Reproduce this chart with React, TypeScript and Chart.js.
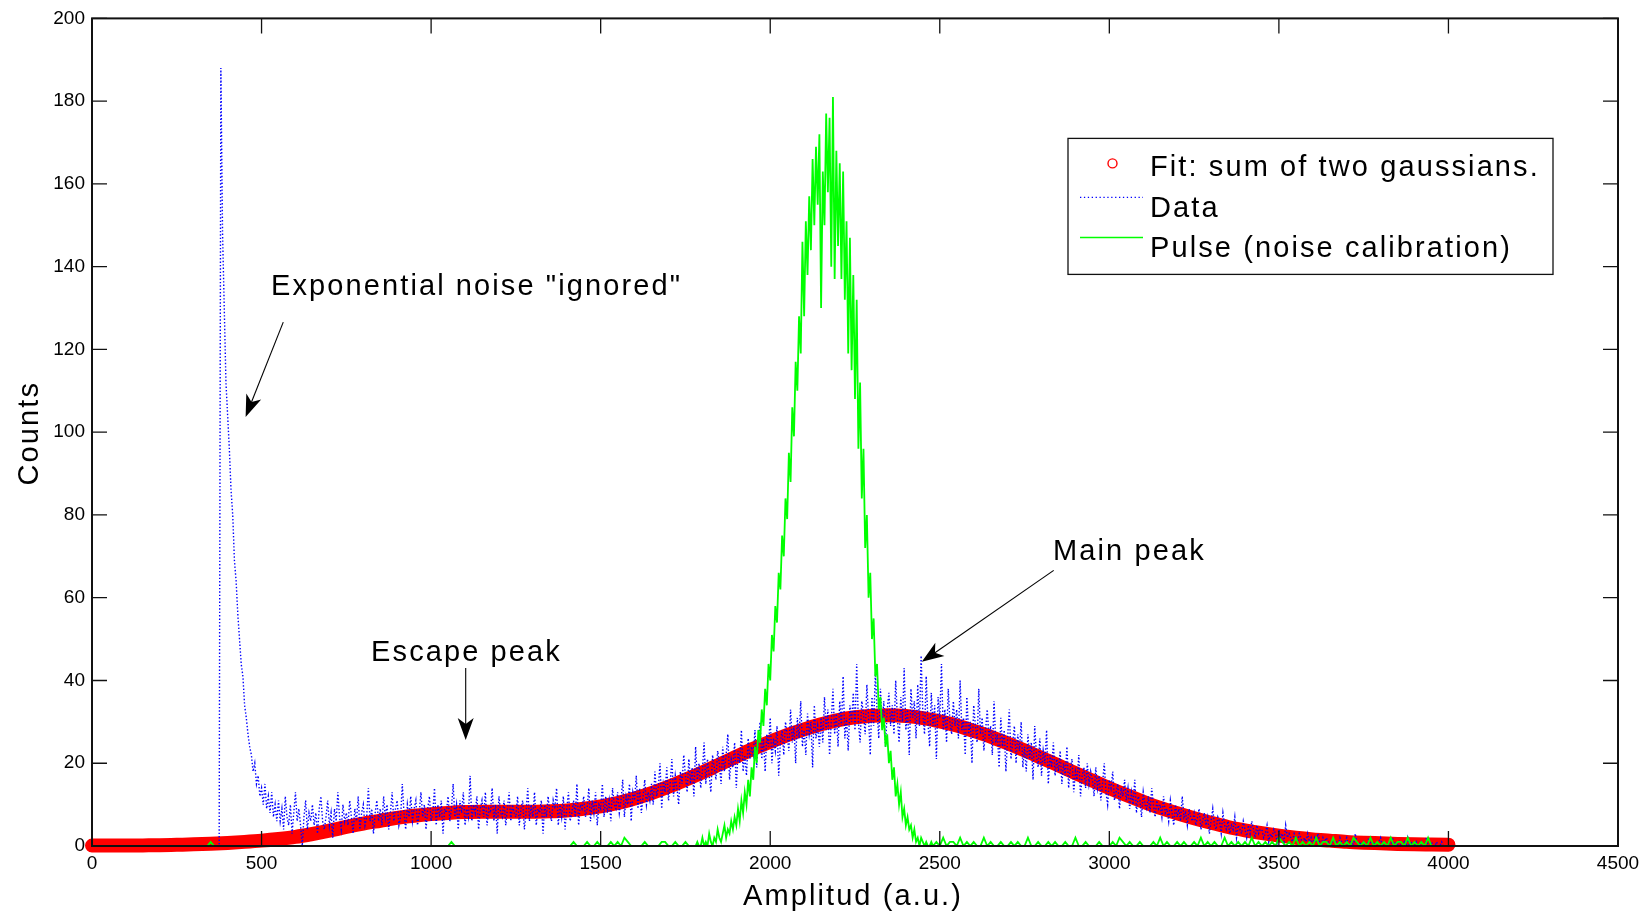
import React, { useEffect, useRef } from 'react';
import { Chart, registerables } from 'chart.js';

Chart.register(...registerables);

const W = 1647;
const H = 915;
const FONT = '"Liberation Sans", Arial, Helvetica, sans-serif';

// ---------- axes ----------
const xTickValues = [0, 500, 1000, 1500, 2000, 2500, 3000, 3500, 4000, 4500];
const yTickValues = [0, 20, 40, 60, 80, 100, 120, 140, 160, 180, 200];
const xTitle = 'Amplitud (a.u.)';
const yTitle = 'Counts';

// ---------- series labels ----------
const fitLabel = 'Fit: sum of two gaussians.';
const dataLabel = 'Data';
const pulseLabel = 'Pulse (noise calibration)';

// ---------- fit (sum of two gaussians), sampled every 50 a.u. ----------
const fitStart = 0;
const fitStep = 50;
const fitCounts = [
  0.1, 0.1, 0.1, 0.15, 0.2, 0.3, 0.4, 0.55, 0.75, 1.0,
  1.3, 1.7, 2.2, 2.9, 3.7, 4.6, 5.4, 6.1, 6.8, 7.3,
  7.7, 8.0, 8.2, 8.3, 8.3, 8.3, 8.3, 8.4, 8.6, 9.0,
  9.6, 10.4, 11.5, 12.8, 14.3, 16.0, 17.8, 19.7, 21.6, 23.5,
  25.2, 26.8, 28.2, 29.4, 30.4, 31.1, 31.5, 31.6, 31.4, 30.9,
  30.1, 29.1, 27.8, 26.4, 24.8, 23.1, 21.3, 19.5, 17.6, 15.8,
  14.0, 12.3, 10.7, 9.2, 7.9, 6.7, 5.6, 4.6, 3.8, 3.1,
  2.5, 2.0, 1.6, 1.3, 1.0, 0.8, 0.65, 0.5, 0.4, 0.35,
  0.3,
];

// ---------- measured data, every 5 a.u. from 370 ----------
const dataStart = 370;
const dataStep = 5;
const dataCounts = [
  0, 0, 188, 148, 130, 112, 104, 96, 86, 80, 69, 64, 56, 50, 44, 41, 34, 31, 27, 24,
  22, 18, 20, 15, 17, 12, 14, 10, 15, 9, 12, 8, 13, 7, 10, 6,
  11, 6, 9, 4, 12, 7, 5, 10, 3, 8, 13, 6, 9, 5, 0, 7, 11, 4, 8, 6,
  10, 5, 8, 3, 9, 12, 6, 4, 7, 11, 5, 8, 2, 9, 6, 13, 7, 4, 10, 6,
  8, 5, 11, 7, 3, 9, 6, 12, 4, 8, 10, 5, 7, 14, 6, 9, 3, 8, 11, 6,
  9, 5, 12, 7, 10, 4, 8, 13, 6, 9, 11, 5, 7, 15, 8, 4, 10, 7, 12, 6,
  9, 11, 5, 8, 13, 7, 10, 4, 9, 12, 6, 8, 14, 5, 10, 7, 11, 3, 9, 8,
  12, 6, 9, 15, 7, 10, 4, 11, 8, 13, 5, 9, 7, 17, 6, 10, 8, 12, 4, 9,
  11, 7, 13, 5, 9, 8, 14, 6, 10, 3, 12, 8, 7, 11, 5, 9, 13, 6, 10, 8,
  7, 12, 5, 9, 11, 4, 8, 14, 6, 10, 7, 13, 5, 9, 8, 11, 3, 10, 7, 12,
  8, 6, 11, 9, 14, 5, 10, 7, 12, 4, 9, 13, 6, 8, 11, 7, 15, 5, 10, 9,
  12, 7, 9, 14, 6, 11, 8, 13, 5, 10, 9, 15, 7, 12, 8, 11, 6, 14, 10, 9,
  13, 8, 11, 16, 7, 12, 10, 15, 6, 13, 11, 17, 9, 14, 8, 12, 16, 10, 13, 11,
  15, 10, 18, 12, 14, 20, 9, 16, 13, 19, 11, 15, 21, 12, 17, 14, 10, 18, 15, 22,
  17, 13, 21, 15, 19, 12, 24, 16, 20, 14, 18, 25, 15, 21, 17, 13, 22, 19, 16, 23,
  20, 15, 24, 18, 22, 27, 16, 21, 19, 25, 14, 23, 20, 28, 18, 22, 17, 26, 21, 24,
  22, 28, 19, 25, 30, 21, 26, 18, 27, 24, 31, 20, 26, 23, 29, 17, 25, 28, 22, 30,
  27, 23, 33, 25, 29, 20, 31, 26, 35, 24, 28, 22, 32, 27, 30, 19, 34, 26, 29, 24,
  31, 25, 36, 28, 33, 22, 30, 38, 27, 32, 24, 35, 29, 41, 26, 31, 23, 34, 30, 37,
  28, 44, 30, 25, 35, 32, 27, 39, 31, 22, 36, 29, 42, 33, 26, 38, 30, 35, 24, 33,
  37, 29, 34, 27, 40, 31, 25, 36, 30, 43, 28, 33, 22, 38, 31, 35, 26, 39, 29, 46,
  32, 27, 41, 30, 24, 37, 29, 34, 21, 36, 31, 44, 28, 33, 25, 38, 30, 27, 35, 29,
  33, 26, 40, 28, 31, 22, 36, 27, 30, 20, 34, 29, 25, 38, 27, 31, 23, 28, 33, 26,
  29, 22, 35, 25, 27, 19, 31, 24, 28, 18, 26, 33, 21, 25, 29, 20, 27, 23, 30, 19,
  24, 18, 27, 21, 25, 16, 29, 22, 19, 26, 17, 23, 20, 28, 15, 22, 19, 25, 17, 21,
  18, 23, 15, 20, 17, 24, 14, 19, 21, 13, 18, 16, 22, 12, 17, 19, 14, 20, 15, 18,
  16, 12, 19, 14, 17, 11, 15, 20, 13, 10, 16, 14, 18, 11, 13, 15, 9, 14, 12, 16,
  11, 14, 9, 13, 10, 16, 8, 12, 11, 7, 13, 10, 9, 12, 8, 14, 10, 7, 11, 9,
  10, 7, 12, 8, 9, 6, 11, 8, 5, 10, 7, 9, 6, 12, 7, 8, 5, 9, 7, 6,
  8, 5, 7, 9, 4, 6, 8, 5, 7, 3, 6, 9, 5, 4, 7, 6, 3, 8, 5, 4,
  6, 3, 5, 4, 7, 2, 5, 4, 3, 6, 4, 2, 5, 3, 6, 4, 2, 5, 3, 4,
  4, 2, 3, 5, 1, 3, 2, 4, 3, 1, 4, 2, 3, 1, 5, 2, 3, 2, 1, 3,
  2, 1, 3, 2, 0, 2, 1, 3, 1, 2, 0, 2, 1, 3, 1, 0, 2, 1, 2, 1,
  1, 0, 2, 1, 1, 0, 2, 1, 0, 1, 2, 0, 1, 1, 0, 3, 1, 0, 1, 0,
  1, 0, 0, 2, 1, 0, 1, 0, 0, 1, 2, 0, 1, 0, 0, 1, 0, 2, 0, 1,
  0, 1, 0, 0, 1, 0, 2, 0, 1, 0, 0, 1, 0, 0, 1, 0, 0, 2, 0, 0,
  1, 0, 0, 1, 0, 0, 1, 0, 0, 0, 0,
];

// ---------- pulse (noise calibration) ----------
const pulseLowStart = 340;
const pulseLowStep = 10;
const pulseLow = [
  0, 1, 0, 0, 0, 0, 0, 0, 0, 0,
  0, 0, 0, 0, 0, 0, 0, 0, 0, 0,
  0, 0, 0, 0, 0, 0, 0, 0, 0, 0,
  0, 0, 0, 0, 0, 0, 0, 0, 0, 0,
  0, 0, 0, 0, 0, 0, 0, 0, 0, 0,
  0, 0, 0, 0, 0, 0, 0, 0, 0, 0,
  0, 0, 0, 0, 0, 0, 0, 0, 0, 0,
  0, 0, 1, 0, 0, 0, 0, 0, 0, 0,
  0, 0, 0, 0, 0, 0, 0, 0, 0, 0,
  0, 0, 0, 0, 0, 0, 0, 0, 0, 0,
  0, 0, 0, 0, 0, 0, 0, 0, 1, 0,
  0, 0, 1, 0, 0, 1, 0, 0, 0, 1,
  0, 1, 0, 2, 1, 0, 0, 0, 0, 1,
  0, 0, 0, 0, 1, 1, 0, 0, 1, 0,
  0, 1, 0, 0,
];
const pulseCoreStart = 1780;
const pulseCoreStep = 5;
const pulseCore = [
  0, 1, 0, 0, 2, 0, 1, 0, 3, 1,
  0, 2, 1, 4, 2, 1, 3, 5, 2, 4,
  3, 6, 4, 7, 5, 9, 6, 11, 8, 13,
  10, 16, 12, 19, 16, 24, 20, 28, 25, 33,
  29, 38, 34, 44, 40, 51, 47, 58, 54, 66,
  62, 75, 70, 84, 79, 95, 88, 106, 99, 117,
  110, 128, 119, 146, 128, 151, 138, 157, 144, 166,
  150, 169, 155, 172, 130, 163, 150, 177, 158, 176,
  140, 181, 137, 168, 145, 165, 137, 163, 132, 151,
  119, 147, 115, 138, 108, 132, 96, 112, 84, 96,
  72, 80, 60, 66, 50, 55, 41, 44, 33, 36,
  28, 31, 24, 27, 20, 23, 16, 19, 12, 15,
  10, 13, 7, 9, 5, 7, 4, 5, 2, 4,
  1, 2, 0, 2, 1, 0, 1, 0, 0, 1,
  0,
];
const pulseTailStart = 2490;
const pulseTailStep = 10;
const pulseTail = [
  1, 0, 2, 0, 1, 1, 0, 2, 0, 1,
  0, 1, 0, 0, 2, 0, 1, 0, 0, 1,
  0, 0, 1, 0, 1, 0, 0, 2, 0, 0,
  1, 0, 0, 1, 0, 1, 0, 0, 1, 0,
  0, 2, 0, 0, 1, 0, 0, 0, 1, 0,
  0, 0, 1, 0, 2, 1, 0, 1, 0, 0,
  1, 0, 0, 0, 1, 0, 2, 0, 1, 0,
  0, 1, 0, 1, 0, 0, 1, 0, 2, 0,
  1, 0, 1, 0, 0, 2, 0, 1, 0, 1,
  0, 1, 0, 2, 0, 1, 0, 1, 0, 1,
  0, 2, 1, 0, 1, 0, 2, 0, 1, 0,
  1, 0, 2, 0, 1, 1, 0, 2, 0, 1,
  0, 1, 0, 2, 1, 0, 1, 0, 2, 0,
  1, 0, 1, 0, 2, 0, 1, 1, 0, 2,
  0, 1, 0, 1, 0, 2, 0, 0,
];

// ---------- annotations (data coordinates) ----------
const annotationTexts = ['Exponential noise "ignored"', 'Escape peak', 'Main peak'];
const annotationTextAt = [
  [528, 133.1],
  [823, 44.7],
  [2834, 69.1],
];
const annotationArrowFrom = [
  [564, 126.6],
  [1102, 43.0],
  [2836, 66.6],
];
const annotationArrowTo = [
  [453, 103.7],
  [1102, 25.6],
  [2447, 44.5],
];

function series(start: number, step: number, values: number[]) {
  return values.map((y, i) => ({ x: start + i * step, y }));
}

const pulsePoints = [
  ...series(pulseLowStart, pulseLowStep, pulseLow),
  ...series(pulseCoreStart, pulseCoreStep, pulseCore),
  ...series(pulseTailStart, pulseTailStep, pulseTail),
];

const RED = '#ff0000';
const BLUE = '#0000ff';
const GREEN = '#00ff00';
const INK = '#111111';
const TEXT_FONT = `29px ${FONT}`;
const TEXT_SPACING = '2.1px';

function drawArrow(ctx: CanvasRenderingContext2D, x1: number, y1: number, x2: number, y2: number) {
  const dx = x2 - x1;
  const dy = y2 - y1;
  const len = Math.hypot(dx, dy);
  const ux = dx / len;
  const uy = dy / len;
  const nx = -uy;
  const ny = ux;
  const L = 22;
  const Wd = 8;
  const notch = 6;
  ctx.beginPath();
  ctx.moveTo(x1, y1);
  ctx.lineTo(x2 - ux * (L - notch), y2 - uy * (L - notch));
  ctx.stroke();
  ctx.beginPath();
  ctx.moveTo(x2, y2);
  ctx.lineTo(x2 - ux * L + nx * Wd, y2 - uy * L + ny * Wd);
  ctx.lineTo(x2 - ux * (L - notch), y2 - uy * (L - notch));
  ctx.lineTo(x2 - ux * L - nx * Wd, y2 - uy * L - ny * Wd);
  ctx.closePath();
  ctx.fill();
}

const decorPlugin = {
  id: 'matlabDecor',
  afterDatasetsDraw(chart: any) {
    const { ctx, chartArea: a, scales } = chart;
    const xs = scales.x;
    const ys = scales.y;
    const TL = 15;
    ctx.save();
    ctx.strokeStyle = INK;
    ctx.lineWidth = 1.3;
    ctx.beginPath();
    xTickValues.forEach((v) => {
      const p = xs.getPixelForValue(v);
      ctx.moveTo(p, a.bottom);
      ctx.lineTo(p, a.bottom - TL);
      ctx.moveTo(p, a.top);
      ctx.lineTo(p, a.top + TL);
    });
    yTickValues.forEach((v) => {
      const p = ys.getPixelForValue(v);
      ctx.moveTo(a.left, p);
      ctx.lineTo(a.left + TL, p);
      ctx.moveTo(a.right, p);
      ctx.lineTo(a.right - TL, p);
    });
    ctx.stroke();
    ctx.lineWidth = 2;
    ctx.strokeRect(a.left, a.top, a.right - a.left, a.bottom - a.top);
    ctx.restore();
  },
  afterDraw(chart: any) {
    const { ctx, chartArea: a, scales } = chart;
    const xs = scales.x;
    const ys = scales.y;
    ctx.save();
    ctx.fillStyle = '#000';
    ctx.strokeStyle = '#000';
    ctx.font = TEXT_FONT;
    (ctx as any).letterSpacing = TEXT_SPACING;
    ctx.textBaseline = 'alphabetic';

    // annotations
    annotationTexts.forEach((t, i) => {
      ctx.textAlign = 'left';
      ctx.fillText(t, xs.getPixelForValue(annotationTextAt[i][0]), ys.getPixelForValue(annotationTextAt[i][1]));
      ctx.lineWidth = 1.1;
      drawArrow(
        ctx,
        xs.getPixelForValue(annotationArrowFrom[i][0]),
        ys.getPixelForValue(annotationArrowFrom[i][1]),
        xs.getPixelForValue(annotationArrowTo[i][0]),
        ys.getPixelForValue(annotationArrowTo[i][1])
      );
    });

    // axis titles
    ctx.textAlign = 'center';
    ctx.fillText(xTitle, (a.left + a.right) / 2 - 2, 905);
    ctx.save();
    ctx.translate(38, (a.top + a.bottom) / 2 + 1);
    ctx.rotate(-Math.PI / 2);
    ctx.fillText(yTitle, 0, 0);
    ctx.restore();

    // legend box
    const bx = a.right - 550;
    const by = a.top + 120;
    const bw = 485;
    const bh = 136;
    ctx.fillStyle = '#fff';
    ctx.fillRect(bx, by, bw, bh);
    ctx.lineWidth = 1.3;
    ctx.strokeStyle = INK;
    ctx.strokeRect(bx, by, bw, bh);

    const rows = [by + 29, by + 69.5, by + 110];
    const labels = [fitLabel, dataLabel, pulseLabel];
    const sx1 = bx + 12;
    const sx2 = bx + 75;
    // fit sample: hollow circle
    ctx.strokeStyle = RED;
    ctx.lineWidth = 1.4;
    ctx.beginPath();
    ctx.arc((sx1 + sx2) / 2 + 1, rows[0] - 4, 4.5, 0, Math.PI * 2);
    ctx.stroke();
    // data sample: dotted blue
    ctx.strokeStyle = BLUE;
    ctx.lineWidth = 1.3;
    ctx.setLineDash([1.3, 2.6]);
    ctx.beginPath();
    ctx.moveTo(sx1, rows[1] - 10.5);
    ctx.lineTo(sx2, rows[1] - 10.5);
    ctx.stroke();
    ctx.setLineDash([]);
    // pulse sample: solid green
    ctx.strokeStyle = GREEN;
    ctx.lineWidth = 1.5;
    ctx.beginPath();
    ctx.moveTo(sx1, rows[2] - 11);
    ctx.lineTo(sx2, rows[2] - 11);
    ctx.stroke();

    ctx.fillStyle = '#000';
    ctx.textAlign = 'left';
    labels.forEach((l, i) => ctx.fillText(l, bx + 82, rows[i] + 9));
    ctx.restore();
  },
};

export default function App() {
  const ref = useRef<HTMLCanvasElement | null>(null);

  useEffect(() => {
    document.body.style.margin = '0';
    const canvas = ref.current;
    if (!canvas) return;
    Chart.defaults.font.family = FONT;
    const chart = new Chart(canvas, {
      type: 'line',
      data: {
        datasets: [
          {
            label: fitLabel,
            data: series(fitStart, fitStep, fitCounts),
            borderColor: RED,
            backgroundColor: RED,
            borderWidth: 14,
            borderCapStyle: 'round',
            borderJoinStyle: 'round',
            cubicInterpolationMode: 'monotone',
            pointRadius: 0,
            fill: false,
            clip: false,
            order: 3,
          },
          {
            label: dataLabel,
            data: series(dataStart, dataStep, dataCounts),
            borderColor: BLUE,
            borderWidth: 1.4,
            borderDash: [1.4, 2],
            pointRadius: 0,
            fill: false,
            tension: 0,
            order: 2,
          },
          {
            label: pulseLabel,
            data: pulsePoints,
            borderColor: GREEN,
            borderWidth: 1.8,
            pointRadius: 0,
            fill: false,
            tension: 0,
            order: 1,
          },
        ],
      } as any,
      options: {
        responsive: false,
        animation: false,
        devicePixelRatio: 1,
        events: [],
        layout: { padding: { left: 0, top: 18, right: 29, bottom: 0 } },
        plugins: {
          legend: { display: false },
          tooltip: { enabled: false },
          title: { display: false },
        },
        scales: {
          x: {
            type: 'linear',
            min: 0,
            max: 4500,
            grid: { display: false, drawTicks: false },
            border: { display: false },
            ticks: {
              color: '#000',
              font: { size: 19, family: FONT },
              padding: 6,
              maxRotation: 0,
              callback: (v: any) => String(v),
            },
            afterBuildTicks: (scale: any) => {
              scale.ticks = xTickValues.map((v) => ({ value: v }));
            },
            afterFit: (scale: any) => {
              scale.height = 69;
            },
          },
          y: {
            type: 'linear',
            min: 0,
            max: 200,
            grid: { display: false, drawTicks: false },
            border: { display: false },
            ticks: {
              color: '#000',
              font: { size: 19, family: FONT },
              padding: 7,
              callback: (v: any) => String(v),
            },
            afterBuildTicks: (scale: any) => {
              scale.ticks = yTickValues.map((v) => ({ value: v }));
            },
            afterFit: (scale: any) => {
              scale.width = 92;
            },
          },
        },
      } as any,
      plugins: [decorPlugin],
    });
    return () => chart.destroy();
  }, []);

  return (
    <div style={{ width: W, height: H, background: '#fff', overflow: 'hidden' }}>
      <canvas ref={ref} width={W} height={H} style={{ display: 'block', width: W, height: H }} />
    </div>
  );
}
